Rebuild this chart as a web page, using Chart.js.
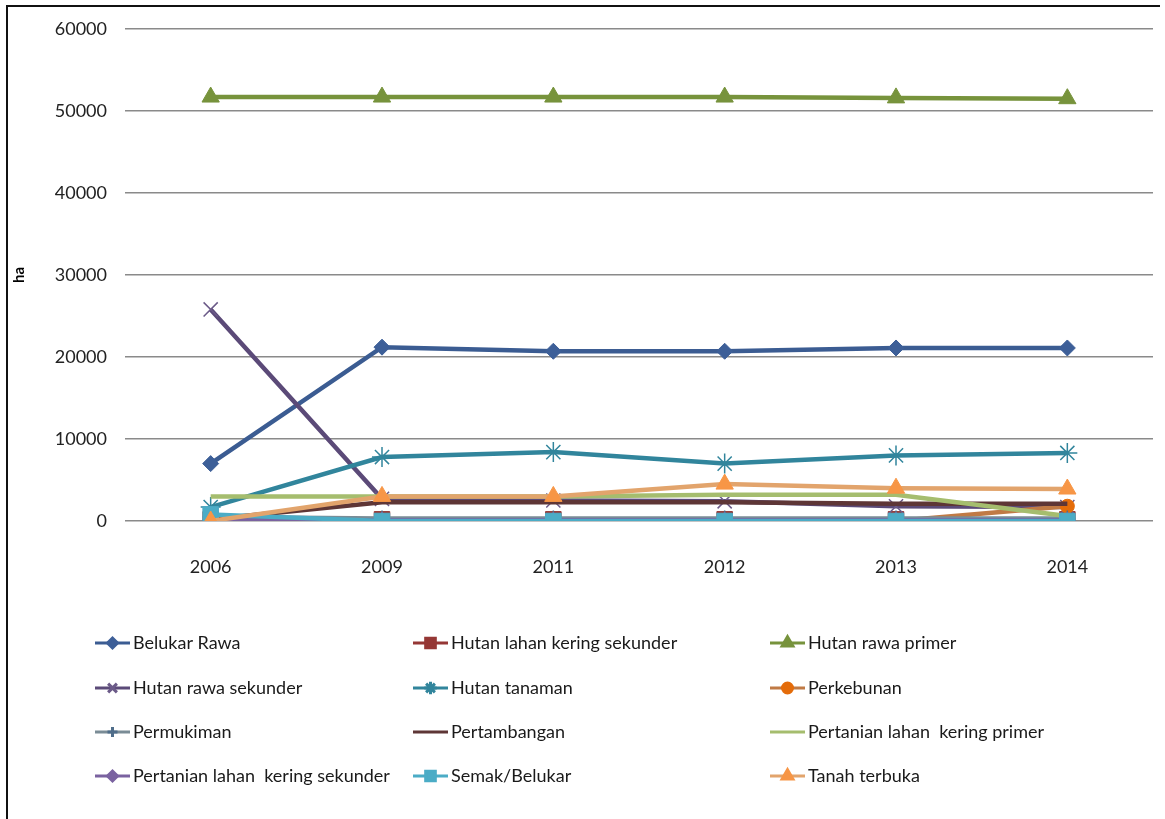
<!DOCTYPE html>
<html>
<head>
<meta charset="utf-8">
<script src="https://cdn.jsdelivr.net/npm/chart.js@4/dist/chart.umd.min.js"></script>
<style>
  html, body { margin: 0; padding: 0; background: #ffffff; }
  #wrap { position: relative; width: 1165px; height: 819px; overflow: hidden; }
  #frameTop { position: absolute; left: 6px; top: 5px; width: 1154px; height: 2px; background: #111; }
  #frameLeft { position: absolute; left: 6px; top: 5px; width: 2px; height: 814px; background: #111; }
  canvas { position: absolute; left: 0; top: 0; }
</style>
</head>
<body>
<div id="wrap">
  <canvas id="c" width="1165" height="819"></canvas>
  <div id="frameTop"></div>
  <div id="frameLeft"></div>
</div>
<script>
// ---- Data ----
const years = ["2006", "2009", "2011", "2012", "2013", "2014"];
const seriesNames = [
  "Belukar Rawa",
  "Hutan lahan kering sekunder",
  "Hutan rawa primer",
  "Hutan rawa sekunder",
  "Hutan tanaman",
  "Perkebunan",
  "Permukiman",
  "Pertambangan",
  "Pertanian lahan  kering primer",
  "Pertanian lahan  kering sekunder",
  "Semak/Belukar",
  "Tanah terbuka"
];
const belukarRawa = [7000, 21200, 20700, 20700, 21100, 21100];
const hutanLahanKeringSekunder = [200, 200, 200, 200, 200, 200];
const hutanRawaPrimer = [51700, 51700, 51700, 51700, 51600, 51500];
const hutanRawaSekunder = [25800, 2700, 2500, 2400, 1800, 1700];
const hutanTanaman = [1700, 7800, 8400, 7000, 8000, 8300];
const perkebunan = [0, 0, 0, 0, 0, 1800];
const permukiman = [500, 300, 300, 300, 300, 300];
const pertambangan = [200, 2300, 2300, 2300, 2100, 2100];
const pertanianLahanKeringPrimer = [3000, 3000, 3000, 3200, 3200, 600];
const pertanianLahanKeringSekunder = [100, 100, 100, 100, 100, 100];
const semakBelukar = [800, 0, 0, 0, 0, 0];
const tanahTerbuka = [0, 3000, 3000, 4500, 4000, 3900];
const yTicks = [0, 10000, 20000, 30000, 40000, 50000, 60000];
const yTitle = "ha";

// ---- Styles ----
const FONT = "Lato, 'Open Sans', sans-serif";
const styles = [
  { line: "#3B5C92", pt: "#3D5F98", ps: "rectRot", r: 8, bw: 1 },
  { line: "#953735", pt: "#953735", ps: "rect", r: 11, bw: 1 },
  { line: "#77933C", pt: "#77933C", ps: "triangle", r: 10, bw: 1 },
  { line: "#5B4A78", pt: "#6B5A88", ps: "crossRot", r: 10, bw: 1.5 },
  { line: "#31859C", pt: "#31859C", ps: "star", r: 10, bw: 1.5 },
  { line: "#C07A45", pt: "#E46C0A", ps: "circle", r: 7, bw: 1 },
  { line: "#7A8C96", pt: "#4F6D8A", ps: "cross", r: 8, bw: 1.5 },
  { line: "#5E3636", pt: "#5E3636", ps: false, r: 0, bw: 1 },
  { line: "#A5BD6E", pt: "#A5BD6E", ps: false, r: 0, bw: 1 },
  { line: "#7A62A0", pt: "#7A62A0", ps: "rectRot", r: 8, bw: 1 },
  { line: "#4BACC6", pt: "#4BACC6", ps: "rect", r: 11, bw: 1 },
  { line: "#E2A46C", pt: "#F79646", ps: "triangle", r: 10, bw: 1 }
];
const seriesData = [belukarRawa, hutanLahanKeringSekunder, hutanRawaPrimer, hutanRawaSekunder,
  hutanTanaman, perkebunan, permukiman, pertambangan, pertanianLahanKeringPrimer,
  pertanianLahanKeringSekunder, semakBelukar, tanahTerbuka];

const datasets = seriesNames.map((name, i) => {
  const s = styles[i];
  return {
    label: name,
    data: seriesData[i],
    borderColor: s.line,
    backgroundColor: s.pt,
    borderWidth: 4.5,
    pointStyle: s.ps,
    pointRadius: s.ps ? s.r : 0,
    pointBackgroundColor: s.pt,
    pointBorderColor: s.pt,
    pointBorderWidth: s.bw,
    tension: 0,
    order: seriesNames.length - i
  };
});

// custom grid legend (3 columns x 4 rows)
const gridLegend = {
  id: "gridLegend",
  afterDraw(chart) {
    const ctx = chart.ctx;
    const colX = [95, 413, 770];
    const rowY = [643, 688, 732, 776];
    const len = 35;
    ctx.save();
    chart.data.datasets.forEach((ds, i) => {
      const s = styles[i];
      const x = colX[i % 3];
      const y = rowY[Math.floor(i / 3)];
      ctx.strokeStyle = s.line;
      ctx.lineWidth = 3;
      ctx.beginPath();
      ctx.moveTo(x, y);
      ctx.lineTo(x + len, y);
      ctx.stroke();
      if (s.ps) {
        ctx.fillStyle = s.pt;
        ctx.strokeStyle = s.pt;
        Chart.helpers.drawPoint(ctx, {
          pointStyle: s.ps,
          radius: Math.max(5, s.r * 0.62),
          rotation: 0,
          borderWidth: s.bw
        }, x + len / 2, y);
      }
      ctx.fillStyle = "#1a1a1a";
      ctx.font = "18px " + FONT;
      ctx.textAlign = "left";
      ctx.textBaseline = "middle";
      ctx.fillText(ds.label, x + len + 3, y);
    });
    ctx.restore();
  }
};

new Chart(document.getElementById("c"), {
  type: "line",
  data: { labels: years, datasets: datasets },
  options: {
    responsive: false,
    animation: false,
    layout: { padding: { left: 10, top: 29, right: 8, bottom: 219 } },
    plugins: {
      legend: { display: false },
      tooltip: { enabled: false }
    },
    scales: {
      x: {
        type: "category",
        offset: true,
        grid: { display: false, drawTicks: false },
        border: { display: false },
        ticks: { color: "#222", font: { family: FONT, size: 18 }, padding: 35 },
        afterFit(scale) { scale.height = 79; }
      },
      y: {
        min: 0,
        max: 60000,
        afterBuildTicks(scale) { scale.ticks = yTicks.map(v => ({ value: v })); },
        grid: { color: "#8a8a8a", lineWidth: 1.5, drawTicks: false },
        border: { display: false },
        ticks: {
          color: "#222", font: { family: FONT, size: 18 }, padding: 18,
          callback: (v) => String(v)
        },
        title: { display: true, text: yTitle, color: "#000", font: { family: FONT, size: 15, weight: "bold" }, padding: 0 },
        afterFit(scale) { scale.width = 115; }
      }
    }
  },
  plugins: [gridLegend]
});
</script>
</body>
</html>
